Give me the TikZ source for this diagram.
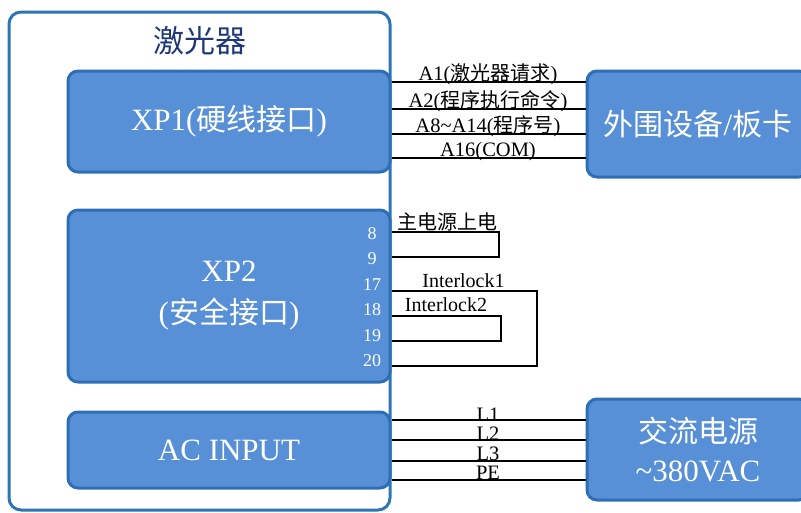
\documentclass[tikz,border=0pt]{standalone}
\usepackage{fontspec}
\setmainfont{Liberation Serif}
\newfontfamily\cjk{Noto Sans CJK SC}
\usetikzlibrary{calc}
\definecolor{boxfill}{RGB}{88,144,216}
\definecolor{boxline}{RGB}{46,110,180}
\definecolor{outerline}{RGB}{46,117,182}
\definecolor{titlecol}{RGB}{31,56,120}
\begin{document}
\begin{tikzpicture}[x=1pt,y=-1pt,
  blk/.style={draw=boxline, fill=boxfill, line width=3pt, rounded corners=10pt,
    text=white, font=\fontsize{31}{42}\selectfont, align=center, inner sep=0pt},
  wire/.style={draw=black, line width=1.5pt},
  lbl/.style={font=\fontsize{20.5}{22}\selectfont, inner sep=0pt, anchor=base},
  pinlbl/.style={text=white, font=\fontsize{18}{20}\selectfont, inner sep=0pt, anchor=base}]
\useasboundingbox (0,0) rectangle (801,512);
\clip (0,0) rectangle (801,512);
% outer laser box
\node[draw=outerline, line width=3pt, rounded corners=12pt, minimum width=381pt,
  minimum height=498pt, inner sep=0pt] (laser) at (199.5,261) {};
\node[font=\fontsize{31}{36}\selectfont, text=titlecol, inner sep=0pt] (title) at (200,41) {\cjk 激光器};
% inner blocks
\node[blk, minimum width=322pt, minimum height=101pt] (xp1) at (229,121.5) {XP1({\cjk\fontsize{30}{36}\selectfont 硬线接口})};
\node[blk, minimum width=322pt, minimum height=172pt] (xp2) at (229,296) {XP2\\({\cjk\fontsize{30}{36}\selectfont 安全接口})};
\node[blk, minimum width=322pt, minimum height=76pt] (ac) at (229,450) {AC INPUT};
% external blocks
\node[blk, minimum width=222pt, minimum height=106pt] (ext) at (698,124) {{\cjk\fontsize{30}{36}\selectfont 外围设备}/{\cjk\fontsize{30}{36}\selectfont 板卡}};
\node[blk, minimum width=222pt, minimum height=101pt, font=\fontsize{31}{39}\selectfont] (pwr) at (698,449.5) {{\cjk\fontsize{30}{36}\selectfont 交流电源}\\\textasciitilde 380VAC};
% XP1 wires
\foreach \y/\n in {82/a1, 109/a2, 134/a3, 158/a4} {\coordinate (\n) at (0,\y);}
\foreach \n in {a1,a2,a3,a4} {\draw[wire] (xp1.east |- \n) -- (ext.west |- \n);}
\node[lbl] (la1) at (488,80.5) {A1({\cjk\fontsize{20}{22}\selectfont 激光器请求})};
\node[lbl] (la2) at (488,107) {A2({\cjk\fontsize{20}{22}\selectfont 程序执行命令})};
\node[lbl] (la3) at (488,132) {A8\textasciitilde A14({\cjk\fontsize{20}{22}\selectfont 程序号})};
\node[lbl] (la4) at (488,156) {A16(COM)};
% AC wires
\foreach \y/\n in {420/l1, 440/l2, 461/l3, 480/l4} {\coordinate (\n) at (0,\y);}
\foreach \n in {l1,l2,l3,l4} {\draw[wire] (ac.east |- \n) -- (pwr.west |- \n);}
\node[lbl] (ll1) at (488,421) {L1};
\node[lbl] (ll2) at (488,440) {L2};
\node[lbl] (ll3) at (488,460) {L3};
\node[lbl] (ll4) at (488,479) {PE};
% XP2 pins
\node[pinlbl] (p8) at (372,239) {8};
\node[pinlbl] (p9) at (372,264) {9};
\node[pinlbl] (p17) at (372,290) {17};
\node[pinlbl] (p18) at (372,315) {18};
\node[pinlbl] (p19) at (372,341) {19};
\node[pinlbl] (p20) at (372,366) {20};
% XP2 loops
\coordinate (w8) at (499,232);
\coordinate (w9) at (499,257);
\coordinate (w17) at (537,291);
\coordinate (w20) at (537,366);
\coordinate (w18) at (501,316);
\coordinate (w19) at (501,341);
\draw[wire] (xp2.east |- w8) -- (w8) -- (w9) -- (xp2.east |- w9);
\draw[wire] (xp2.east |- w17) -- (w17) -- (w20) -- (xp2.east |- w20);
\draw[wire] (xp2.east |- w18) -- (w18) -- (w19) -- (xp2.east |- w19);
\node[lbl, font=\fontsize{20}{22}\selectfont] (lmain) at (447.5,229) {\cjk 主电源上电};
\node[lbl, font=\fontsize{20}{22}\selectfont] (lint1) at (463.5,287) {Interlock1};
\node[lbl, font=\fontsize{20}{22}\selectfont] (lint2) at (446,311) {Interlock2};
\end{tikzpicture}
\end{document}
